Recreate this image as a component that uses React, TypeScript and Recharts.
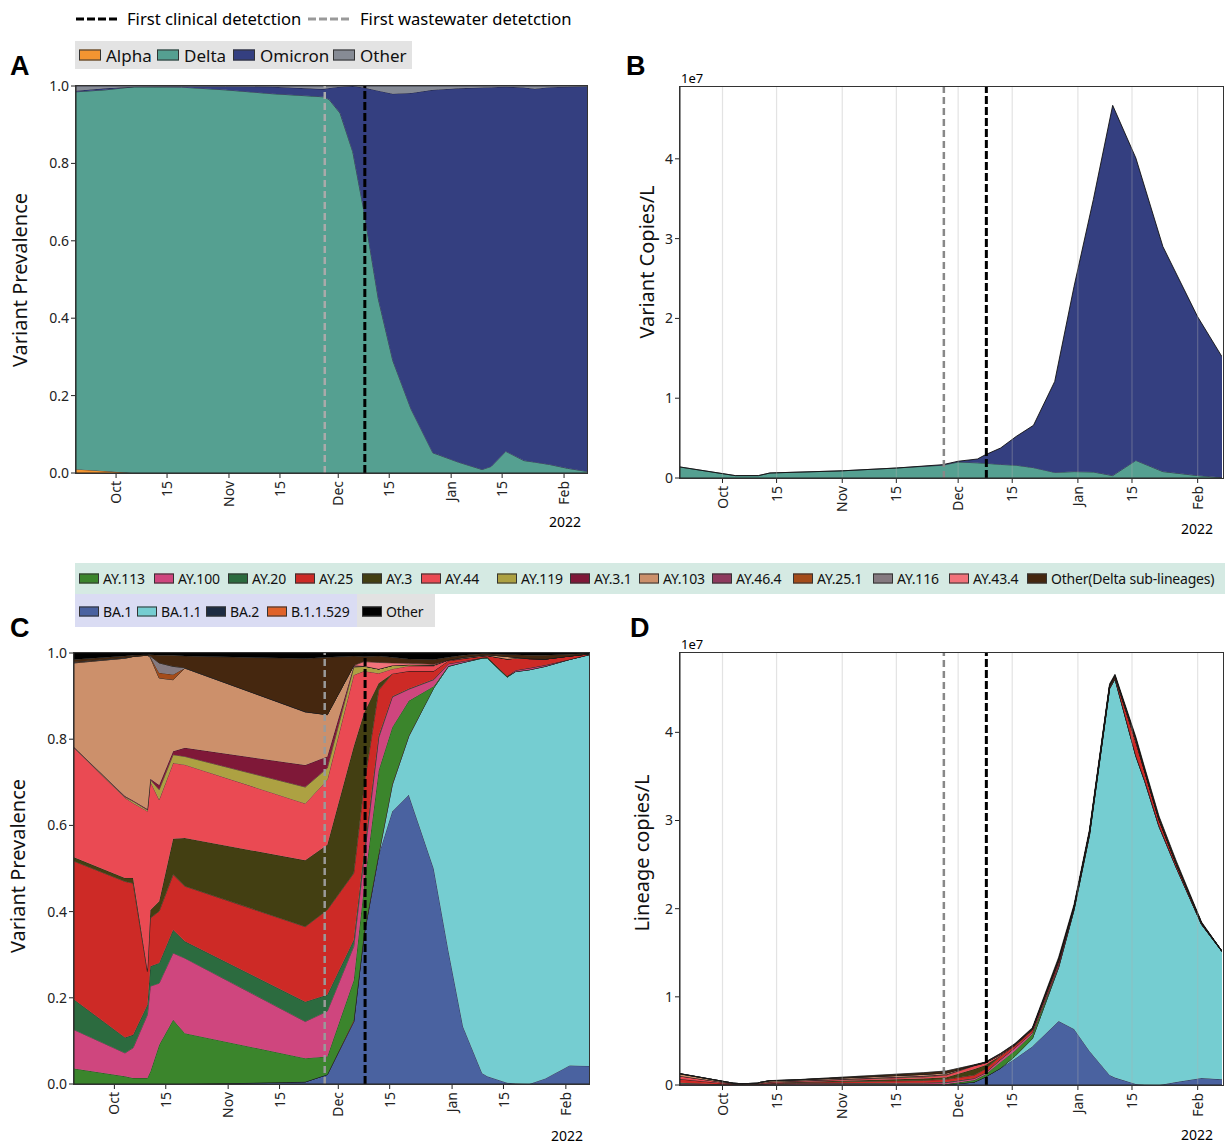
import React from 'react';
import { AreaChart, Area, XAxis, YAxis, ReferenceLine } from 'recharts';

const FONT = '"Noto Sans", "Open Sans", sans-serif';

// x values are days counted from 1 Oct 2021
const MONTH_TICKS = [0, 14, 31, 45, 61, 75, 92, 106, 123];
const MONTH_LABELS = ['Oct', '15', 'Nov', '15', 'Dec', '15', 'Jan', '15', 'Feb'];
const X_DOMAIN: [number, number] = [-11, 129.3];
const WASTEWATER_DAY = 57.3;
const CLINICAL_DAY = 68.3;

// Panel A - variant prevalence
const A_DAYS = [-11, -3, 5, 18, 30, 43, 57, 58.5, 61.5, 65, 68, 72, 76, 81, 87, 88.5, 94, 100.5, 103, 107, 112, 115, 119, 124, 129.3];
const A_ALPHA = [0.01, 0.005, 0, 0, 0, 0, 0, 0, 0, 0, 0, 0, 0, 0, 0, 0, 0, 0, 0, 0, 0, 0, 0, 0, 0];
const A_DELTA = [0.975, 0.985, 0.998, 0.997, 0.99, 0.98, 0.972, 0.965, 0.93, 0.83, 0.68, 0.45, 0.29, 0.165, 0.052, 0.047, 0.028, 0.009, 0.017, 0.056, 0.032, 0.028, 0.022, 0.012, 0.004];
const A_OMICRON = [0.003, 0.004, 0, 0.002, 0.009, 0.018, 0.02, 0.03, 0.068, 0.17, 0.316, 0.538, 0.69, 0.817, 0.938, 0.944, 0.966, 0.987, 0.98, 0.942, 0.964, 0.965, 0.975, 0.986, 0.995];
const A_OTHER = [0.012, 0.006, 0.002, 0.001, 0.001, 0.002, 0.008, 0.005, 0.002, 0, 0.004, 0.012, 0.02, 0.018, 0.01, 0.009, 0.006, 0.004, 0.003, 0.002, 0.004, 0.007, 0.003, 0.002, 0.001];

// Panel B - variant copies/L (units of 1e7)
const B_DAYS = [-11, 3.3, 9.3, 12.3, 31, 45, 57, 61, 66, 68, 72, 76, 80.5, 86, 91, 96, 101, 107, 114, 123, 129.3];
const B_DELTA = [0.138, 0.03, 0.03, 0.063, 0.09, 0.125, 0.16, 0.2, 0.19, 0.185, 0.17, 0.16, 0.13, 0.07, 0.08, 0.075, 0.03, 0.22, 0.08, 0.03, 0.005];
const B_OMICRON = [0, 0, 0, 0, 0, 0, 0.007, 0.01, 0.048, 0.105, 0.206, 0.36, 0.53, 1.14, 2.32, 3.415, 4.64, 3.79, 2.82, 1.99, 1.515];

// Panel C - lineage prevalence
const C_DAYS = [-11, 2.9, 5.1, 9.0, 9.8, 12.2, 16, 19.2, 52, 58, 65.2, 68, 72, 75.7, 80.2, 87, 91, 95, 100.2, 101.6, 107, 109.3, 113, 117.4, 124, 129.3];
const C_BA1 = [0, 0, 0, 0, 0, 0, 0, 0, 0.005, 0.022, 0.145, 0.346, 0.532, 0.633, 0.671, 0.5, 0.31, 0.133, 0.025, 0.018, 0.003, 0.001, 0, 0.013, 0.043, 0.042];
const C_BA11 = [0, 0, 0, 0, 0, 0, 0, 0, 0, 0, 0, 0, 0, 0.061, 0.136, 0.419, 0.659, 0.845, 0.963, 0.97, 0.941, 0.956, 0.961, 0.956, 0.942, 0.954];
const C_BA2 = [0, 0, 0, 0, 0, 0, 0, 0, 0, 0, 0, 0, 0, 0, 0, 0, 0, 0, 0, 0, 0, 0, 0, 0, 0, 0];
const C_B11529 = [0, 0, 0, 0, 0, 0, 0, 0, 0, 0, 0.003, 0.004, 0.003, 0.002, 0.001, 0, 0, 0, 0, 0, 0, 0, 0, 0, 0, 0];
const C_AY113 = [0.036, 0.018, 0.014, 0.014, 0.029, 0.091, 0.149, 0.118, 0.055, 0.042, 0.093, 0.109, 0.193, 0.132, 0.081, 0.004, 0.001, 0, 0.001, 0.002, 0.002, 0, 0, 0, 0, 0];
const C_AY100 = [0.09, 0.054, 0.07, 0.147, 0.198, 0.143, 0.155, 0.174, 0.085, 0.105, 0.078, 0.062, 0.075, 0.07, 0.027, 0.015, 0.005, 0.003, 0, 0, 0, 0.003, 0.004, 0.003, 0, 0];
const C_AY20 = [0.07, 0.036, 0.03, 0.023, 0.046, 0.047, 0.054, 0.039, 0.046, 0.038, 0.015, 0.015, 0.005, 0.001, 0.001, 0.001, 0, 0, 0, 0, 0, 0, 0, 0, 0, 0];
const C_AY25 = [0.321, 0.362, 0.352, 0.077, 0.112, 0.12, 0.128, 0.128, 0.174, 0.197, 0.155, 0.155, 0.106, 0.053, 0.041, 0.019, 0.007, 0.006, 0.004, 0.004, 0.04, 0.028, 0.022, 0.014, 0.008, 0.002];
const C_AY3 = [0.009, 0.008, 0.012, 0.004, 0.019, 0.023, 0.083, 0.112, 0.154, 0.151, 0.294, 0.17, 0.016, 0, 0, 0, 0, 0, 0, 0, 0, 0, 0, 0, 0, 0];
const C_AY44 = [0.254, 0.186, 0.174, 0.368, 0.298, 0.236, 0.176, 0.17, 0.132, 0.151, 0.166, 0.097, 0.023, 0.011, 0.012, 0.012, 0.002, 0.001, 0, 0, 0, 0, 0, 0, 0, 0];
const C_AY119 = [0.001, 0.002, 0.004, 0.003, 0.004, 0.023, 0.019, 0.019, 0.038, 0.027, 0.018, 0.011, 0.01, 0.008, 0.003, 0.002, 0, 0, 0, 0, 0, 0, 0, 0, 0, 0];
const C_AY31 = [0.001, 0.002, 0.002, 0.002, 0.002, 0.011, 0.008, 0.02, 0.051, 0.027, 0.002, 0.001, 0, 0, 0, 0, 0, 0, 0, 0, 0, 0, 0, 0, 0, 0];
const C_AY103 = [0.195, 0.32, 0.334, 0.357, 0.282, 0.248, 0.166, 0.185, 0.123, 0.097, 0.002, 0, 0, 0, 0, 0, 0, 0.002, 0.002, 0.002, 0.006, 0.002, 0, 0, 0, 0];
const C_AY464 = [0, 0, 0, 0, 0, 0, 0, 0, 0.001, 0, 0, 0, 0, 0, 0, 0, 0, 0, 0, 0, 0, 0, 0, 0, 0, 0];
const C_AY251 = [0.001, 0, 0, 0, 0.001, 0.012, 0.012, 0, 0, 0, 0, 0, 0, 0, 0, 0, 0, 0, 0, 0, 0, 0, 0, 0, 0, 0];
const C_AY116 = [0.001, 0.001, 0, 0, 0.002, 0.023, 0.019, 0.001, 0, 0, 0, 0, 0, 0, 0, 0, 0, 0, 0, 0, 0, 0, 0, 0, 0, 0];
const C_AY434 = [0, 0, 0, 0, 0, 0, 0, 0, 0, 0, 0, 0.01, 0.015, 0.006, 0.003, 0.002, 0, 0, 0, 0, 0, 0, 0, 0, 0, 0];
const C_OTHER_DELTA = [0.006, 0.004, 0.003, 0.001, 0.003, 0.018, 0.026, 0.027, 0.123, 0.133, 0.022, 0.012, 0.015, 0.013, 0.01, 0.011, 0.006, 0.005, 0.003, 0.002, 0.004, 0.006, 0.008, 0.009, 0.004, 0.001];
const C_OTHER = [0.015, 0.007, 0.005, 0.004, 0.004, 0.005, 0.005, 0.007, 0.013, 0.01, 0.007, 0.008, 0.007, 0.01, 0.014, 0.015, 0.01, 0.005, 0.002, 0.002, 0.004, 0.004, 0.005, 0.005, 0.003, 0.001];

// Panel D - total copies/L at the panel C sample days (units of 1e7)
const D_TOTAL = [0.13, 0.02, 0.015, 0.02, 0.03, 0.05, 0.055, 0.06, 0.14, 0.16, 0.23, 0.26, 0.36, 0.47, 0.65, 1.45, 2.05, 2.9, 4.55, 4.66, 3.95, 3.6, 3.05, 2.55, 1.85, 1.52];

const VARIANTS = [
  { key: 'alpha', name: 'Alpha', color: '#f39531', values: A_ALPHA },
  { key: 'delta', name: 'Delta', color: '#55a091', values: A_DELTA },
  { key: 'omicron', name: 'Omicron', color: '#343f80', values: A_OMICRON },
  { key: 'other', name: 'Other', color: '#868b95', values: A_OTHER },
];

// stacking order, bottom to top
const LINEAGES = [
  { key: 'ba1', name: 'BA.1', color: '#4a62a0', values: C_BA1 },
  { key: 'ba11', name: 'BA.1.1', color: '#75cdd1', values: C_BA11 },
  { key: 'ba2', name: 'BA.2', color: '#1d2c42', values: C_BA2 },
  { key: 'b11529', name: 'B.1.1.529', color: '#e0622a', values: C_B11529 },
  { key: 'ay113', name: 'AY.113', color: '#3b852c', values: C_AY113 },
  { key: 'ay100', name: 'AY.100', color: '#cf467e', values: C_AY100 },
  { key: 'ay20', name: 'AY.20', color: '#2c6b3f', values: C_AY20 },
  { key: 'ay25', name: 'AY.25', color: '#cd2a26', values: C_AY25 },
  { key: 'ay3', name: 'AY.3', color: '#433f12', values: C_AY3 },
  { key: 'ay44', name: 'AY.44', color: '#ea4a53', values: C_AY44 },
  { key: 'ay119', name: 'AY.119', color: '#ada142', values: C_AY119 },
  { key: 'ay31', name: 'AY.3.1', color: '#7f1838', values: C_AY31 },
  { key: 'ay103', name: 'AY.103', color: '#cc906b', values: C_AY103 },
  { key: 'ay464', name: 'AY.46.4', color: '#8e3a5e', values: C_AY464 },
  { key: 'ay251', name: 'AY.25.1', color: '#a44c1a', values: C_AY251 },
  { key: 'ay116', name: 'AY.116', color: '#857a80', values: C_AY116 },
  { key: 'ay434', name: 'AY.43.4', color: '#f2727a', values: C_AY434 },
  { key: 'otherDelta', name: 'Other(Delta sub-lineages)', color: '#45270f', values: C_OTHER_DELTA },
  { key: 'other', name: 'Other', color: '#000000', values: C_OTHER },
];

const LEGEND_C_ROW1 = ['ay113', 'ay100', 'ay20', 'ay25', 'ay3', 'ay44', 'ay119', 'ay31', 'ay103', 'ay464', 'ay251', 'ay116', 'ay434', 'otherDelta'];
const LEGEND_C_ROW1_X = [79, 154, 228, 295, 362, 421, 497, 570, 639, 712, 793, 873, 949, 1027];
const LEGEND_C_ROW2 = ['ba1', 'ba11', 'ba2', 'b11529', 'other'];
const LEGEND_C_ROW2_X = [79, 137, 206, 267, 362];
const LEGEND_A_X = [79, 157, 233, 333];

const aRows = A_DAYS.map((day, i) => {
  const row: Record<string, number> = { day };
  VARIANTS.forEach((v) => (row[v.key] = v.values[i]));
  return row;
});
const bRows = B_DAYS.map((day, i) => ({ day, delta: B_DELTA[i], omicron: B_OMICRON[i] }));
const cRows = C_DAYS.map((day, i) => {
  const row: Record<string, number> = { day };
  LINEAGES.forEach((l) => (row[l.key] = l.values[i]));
  return row;
});
const dRows = C_DAYS.map((day, i) => {
  const row: Record<string, number> = { day };
  LINEAGES.forEach((l) => (row[l.key] = l.values[i] * D_TOTAL[i]));
  return row;
});

const byKey = (key: string) => LINEAGES.find((l) => l.key === key)!;

function DateTick(props: any) {
  const { x, y, payload } = props;
  const label = MONTH_LABELS[MONTH_TICKS.indexOf(payload.value)];
  return (
    <g transform={`translate(${x},${y})`}>
      <text transform="rotate(-90)" x={-1} y={0} dy="0.36em" textAnchor="end" fontSize={14} fill="#222" fontFamily={FONT}>
        {label}
      </text>
    </g>
  );
}

const xAxis = (height: number) => (
  <XAxis
    dataKey="day"
    type="number"
    domain={X_DOMAIN}
    ticks={MONTH_TICKS}
    interval={0}
    allowDataOverflow
    tick={(p: any) => <DateTick {...p} />}
    tickSize={5}
    height={height}
    stroke="#222"
  />
);

const markerLines = (gray: string) => [
  <ReferenceLine key="ww" x={WASTEWATER_DAY} stroke={gray} strokeWidth={2.5} strokeDasharray="7 4" ifOverflow="extendDomain" />,
  <ReferenceLine key="cl" x={CLINICAL_DAY} stroke="#000" strokeWidth={3} strokeDasharray="8 3" ifOverflow="extendDomain" />,
];

const gridLines = () =>
  MONTH_TICKS.map((t) => <ReferenceLine key={'g' + t} x={t} stroke="rgba(175,175,175,0.35)" strokeWidth={1.2} />);

const abs = (left: number, top: number): React.CSSProperties => ({ position: 'absolute', left, top });

function Frame({ left, top, width, height }: { left: number; top: number; width: number; height: number }) {
  return (
    <div
      style={{ ...abs(left, top), width, height, border: '1.4px solid #333', boxSizing: 'border-box', pointerEvents: 'none' }}
    />
  );
}

function AxisTitle({ x, y, text }: { x: number; y: number; text: string }) {
  return (
    <div style={{ ...abs(x, y), transform: 'translate(-50%,-50%) rotate(-90deg)', fontSize: 20, whiteSpace: 'nowrap', color: '#111' }}>
      {text}
    </div>
  );
}

function Letter({ x, y, text }: { x: number; y: number; text: string }) {
  return <div style={{ ...abs(x, y), fontSize: 27, fontWeight: 700, lineHeight: '28px', fontFamily: '"Liberation Sans", Arial, sans-serif' }}>{text}</div>;
}

function Swatch({ color, w = 20, h = 9 }: { color: string; w?: number; h?: number }) {
  return <span style={{ display: 'inline-block', width: w, height: h, background: color, border: '1px solid #333', boxSizing: 'border-box' }} />;
}

function LegendItem({ x, y, color, label, size, sw, gap, spacing = 0 }: { x: number; y: number; color: string; label: string; size: number; sw: number; gap: number; spacing?: number }) {
  return (
    <div style={{ ...abs(x, y), display: 'flex', alignItems: 'center', transform: 'translateY(-50%)', whiteSpace: 'nowrap', fontSize: size, color: '#111', letterSpacing: spacing }}>
      <Swatch color={color} w={sw} h={Math.round(sw * 0.48)} />
      <span style={{ marginLeft: gap }}>{label}</span>
    </div>
  );
}

const yTick = { fontSize: 14, fill: '#222', fontFamily: FONT };

export default function App() {
  return (
    <div style={{ position: 'absolute', left: 0, top: 0, width: 1225, height: 1147, background: '#fff', fontFamily: FONT, overflow: 'hidden' }}>
      {/* top legend */}
      <svg style={abs(74, 10)} width={50} height={18}>
        <line x1={2} x2={46} y1={9} y2={9} stroke="#000" strokeWidth={3} strokeDasharray="8 3" />
      </svg>
      <div style={{ ...abs(127, 18), transform: 'translateY(-50%)', fontSize: 16.6, whiteSpace: 'nowrap' }}>First clinical detetction</div>
      <svg style={abs(306, 10)} width={50} height={18}>
        <line x1={2} x2={46} y1={9} y2={9} stroke="#999" strokeWidth={3} strokeDasharray="8 3" />
      </svg>
      <div style={{ ...abs(360, 18), transform: 'translateY(-50%)', fontSize: 16.6, whiteSpace: 'nowrap' }}>First wastewater detetction</div>

      {/* legend A */}
      <div style={{ ...abs(75, 41), width: 337, height: 28, background: '#e3e3e3' }} />
      {VARIANTS.map((v, i) => (
        <LegendItem key={v.key} x={LEGEND_A_X[i]} y={55} color={v.color} label={v.name} size={17} sw={22} gap={5} />
      ))}

      <Letter x={10} y={52} text="A" />
      <Letter x={626} y={52} text="B" />
      <Letter x={10} y={614} text="C" />
      <Letter x={630} y={614} text="D" />

      {/* Panel A */}
      <div style={abs(0, 60)}>
        <AreaChart width={600} height={470} data={aRows} margin={{ top: 26, right: 13, bottom: 7, left: 36 }}>
          {xAxis(50)}
          <YAxis domain={[0, 1]} ticks={[0, 0.2, 0.4, 0.6, 0.8, 1]} tickFormatter={(v: number) => v.toFixed(1)} allowDataOverflow width={40} tick={yTick} tickSize={5} stroke="#222" />
          {VARIANTS.map((v) => (
            <Area key={v.key} type="linear" dataKey={v.key} stackId="a" fill={v.color} fillOpacity={1} stroke="#1a1a2a" strokeWidth={0.7} dot={false} activeDot={false} isAnimationActive={false} />
          ))}
          {markerLines('#aaaaaa')}
        </AreaChart>
      </div>
      <Frame left={75} top={85} width={513} height={389} />
      <AxisTitle x={19} y={280} text="Variant Prevalence" />
      <div style={{ ...abs(549, 512), fontSize: 14 }}>2022</div>

      {/* Panel B */}
      <div style={abs(620, 60)}>
        <AreaChart width={605} height={470} data={bRows} margin={{ top: 27, right: 3, bottom: 7, left: 30 }}>
          {xAxis(45)}
          <YAxis domain={[0, 4.9]} ticks={[0, 1, 2, 3, 4]} allowDataOverflow width={30} tick={yTick} tickSize={5} stroke="#222" />
          <Area type="linear" dataKey="delta" stackId="b" fill="#55a091" fillOpacity={1} stroke="#1a1a2a" strokeWidth={0.7} dot={false} activeDot={false} isAnimationActive={false} />
          <Area type="linear" dataKey="omicron" stackId="b" fill="#343f80" fillOpacity={1} stroke="#111" strokeWidth={0.9} dot={false} activeDot={false} isAnimationActive={false} />
          {gridLines()}
          {markerLines('#888888')}
        </AreaChart>
      </div>
      <Frame left={679} top={86} width={545} height={393} />
      <AxisTitle x={646} y={262} text="Variant Copies/L" />
      <div style={{ ...abs(681, 69), fontSize: 13 }}>1e7</div>
      <div style={{ ...abs(1181, 519), fontSize: 14 }}>2022</div>

      {/* legend C */}
      <div style={{ ...abs(75, 563), width: 1150, height: 31, background: '#d5eae3' }} />
      <div style={{ ...abs(75, 594), width: 282, height: 33, background: '#dadcf3' }} />
      <div style={{ ...abs(357, 594), width: 78, height: 33, background: '#e2e2e2' }} />
      {LEGEND_C_ROW1.map((k, i) => (
        <LegendItem key={k} x={LEGEND_C_ROW1_X[i]} y={578} color={byKey(k).color} label={byKey(k).name} size={14} sw={20} gap={4} spacing={-0.2} />
      ))}
      {LEGEND_C_ROW2.map((k, i) => (
        <LegendItem key={k} x={LEGEND_C_ROW2_X[i]} y={611} color={byKey(k).color} label={byKey(k).name} size={14} sw={20} gap={4} spacing={-0.2} />
      ))}

      {/* Panel C */}
      <div style={abs(0, 630)}>
        <AreaChart width={600} height={517} data={cRows} margin={{ top: 23, right: 11, bottom: 5, left: 34 }}>
          {xAxis(58)}
          <YAxis domain={[0, 1]} ticks={[0, 0.2, 0.4, 0.6, 0.8, 1]} tickFormatter={(v: number) => v.toFixed(1)} allowDataOverflow width={40} tick={yTick} tickSize={5} stroke="#222" />
          {LINEAGES.map((l) => (
            <Area key={l.key} type="linear" dataKey={l.key} stackId="c" fill={l.color} fillOpacity={1} stroke="#1a1a1a" strokeWidth={0.6} dot={false} activeDot={false} isAnimationActive={false} />
          ))}
          {markerLines('#9a9a9a')}
        </AreaChart>
      </div>
      <Frame left={73} top={652} width={517} height={433} />
      <AxisTitle x={17} y={866} text="Variant Prevalence" />
      <div style={{ ...abs(551, 1126), fontSize: 14 }}>2022</div>

      {/* Panel D */}
      <div style={abs(620, 630)}>
        <AreaChart width={605} height={517} data={dRows} margin={{ top: 23, right: 3, bottom: 5, left: 30 }}>
          {xAxis(57)}
          <YAxis domain={[0, 4.9]} ticks={[0, 1, 2, 3, 4]} allowDataOverflow width={30} tick={yTick} tickSize={5} stroke="#222" />
          {LINEAGES.map((l) => (
            <Area key={l.key} type="linear" dataKey={l.key} stackId="d" fill={l.color} fillOpacity={1} stroke="#1a1a1a" strokeWidth={0.6} dot={false} activeDot={false} isAnimationActive={false} />
          ))}
          {gridLines()}
          {markerLines('#888888')}
        </AreaChart>
      </div>
      <Frame left={679} top={652} width={545} height={434} />
      <AxisTitle x={641} y={853} text="Lineage copies/L" />
      <div style={{ ...abs(681, 635), fontSize: 13 }}>1e7</div>
      <div style={{ ...abs(1181, 1125), fontSize: 14 }}>2022</div>
    </div>
  );
}
